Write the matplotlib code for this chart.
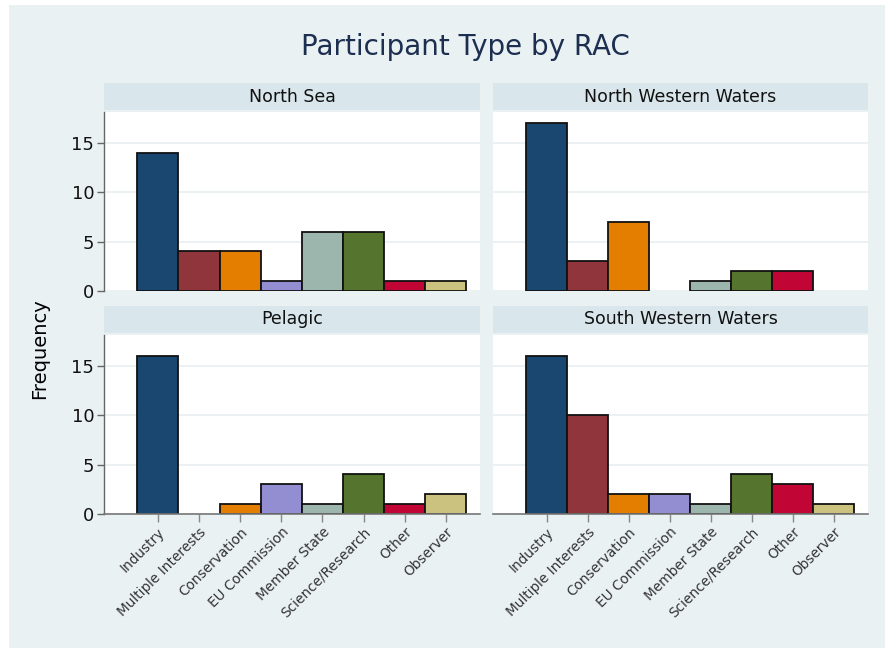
import matplotlib
matplotlib.use('Agg')
import matplotlib.pyplot as plt
import numpy as np
from matplotlib.patches import Rectangle

# Participant categories and counts per RAC
categories = ['Industry', 'Multiple Interests', 'Conservation', 'EU Commission',
              'Member State', 'Science/Research', 'Other', 'Observer']
north_sea = [14, 4, 4, 1, 6, 6, 1, 1]
north_western = [17, 3, 7, 0, 1, 2, 2, 0]
pelagic = [16, 0, 1, 3, 1, 4, 1, 2]
south_western = [16, 10, 2, 2, 1, 4, 3, 1]
panel_titles = ['North Sea', 'North Western Waters', 'Pelagic', 'South Western Waters']
yticks = [0, 5, 10, 15]

colors = ['#1a476f', '#90353b', '#e37e00', '#938dd2',
          '#9cb6ae', '#55752f', '#c10534', '#cac27e']

BG = '#eaf1f3'
STRIP = '#d9e6eb'
W, H = 885, 648

fig = plt.figure(figsize=(W / 100, H / 100), dpi=100, facecolor='white')
# graph region (image has a thin white margin top/left)
fig.patches.append(Rectangle((9 / W, 0), 1 - 9 / W, 1 - 5 / H, transform=fig.transFigure,
                             facecolor=BG, edgecolor='none', zorder=-10))

fig.text(465 / W, 1 - 47 / H, 'Participant Type by RAC', ha='center', va='center',
         fontsize=20, color='#1c2f50')
fig.text(40 / W, 1 - 349 / H, 'Frequency', rotation=90, ha='center', va='center',
         fontsize=14, color='black')

# panel geometry in pixels: (left, right, plot top, plot bottom)
cols = [(104, 480), (493, 868)]
rows = [(112, 291), (335, 514)]
data = [north_sea, north_western, pelagic, south_western]

x = np.arange(len(categories))
for i, vals in enumerate(data):
    r, c = divmod(i, 2)
    left, right = cols[c]
    top, bottom = rows[r]
    ax = fig.add_axes([left / W, 1 - bottom / H, (right - left) / W, (bottom - top) / H])
    ax.set_facecolor('white')

    vals = np.array(vals)
    keep = vals > 0
    ax.bar(x[keep], vals[keep], width=1.0, color=np.array(colors)[keep],
           edgecolor='#111111', linewidth=1.3, zorder=3)

    ax.set_xlim(-1.31, 7.83)
    ax.set_ylim(0, 18.1)
    ax.set_yticks(yticks)
    ax.grid(axis='y', color=BG, linewidth=1.3, zorder=0)
    ax.set_axisbelow(True)

    for s in ['top', 'right']:
        ax.spines[s].set_visible(False)
    ax.spines['left'].set_color('#666666')
    ax.spines['bottom'].set_color('#777777')
    ax.spines['left'].set_linewidth(1.0)
    ax.spines['bottom'].set_linewidth(1.2)

    if c == 0:
        ax.tick_params(axis='y', length=5, width=1, color='#666666', labelsize=13,
                       pad=2, labelcolor='#111111')
    else:
        ax.spines['left'].set_visible(False)
        ax.tick_params(axis='y', length=0, labelleft=False)

    if r == 1:
        ax.set_xticks(x)
        ax.set_xticklabels(categories, rotation=45, ha='right', va='top',
                           rotation_mode='anchor', fontsize=9.8, color='#333333')
        ax.tick_params(axis='x', length=6, width=1, color='#888888', pad=2)
        ax.spines['bottom'].set_zorder(4)
    else:
        ax.spines['bottom'].set_visible(False)
        ax.set_xticks([])

    # strip header above each panel
    hax = fig.add_axes([left / W, 1 - (top - 2) / H, (right - left) / W, 27 / H])
    hax.set_facecolor(STRIP)
    hax.set_xticks([])
    hax.set_yticks([])
    for s in hax.spines.values():
        s.set_visible(False)
    hax.text(0.5, 0.5, panel_titles[i], ha='center', va='center', fontsize=12.5,
             color='#111111', transform=hax.transAxes)

fig.savefig('out.png', dpi=100, facecolor=fig.get_facecolor())
